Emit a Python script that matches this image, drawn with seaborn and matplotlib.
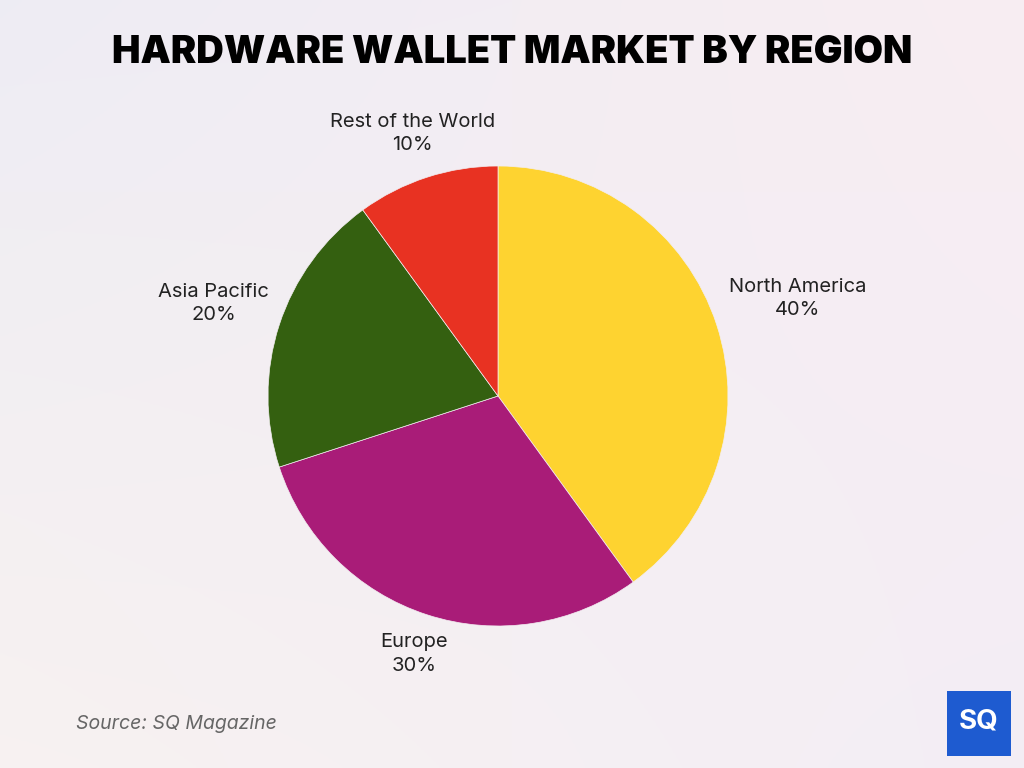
import numpy as np
import seaborn as sns
import matplotlib.pyplot as plt
from matplotlib.patches import Rectangle

regions = ['North America', 'Europe', 'Asia Pacific', 'Rest of the World']
shares = [40, 30, 20, 10]
colors = ['#FED330', '#A91C78', '#346010', '#E83222']
label_dist = [1.37, 1.18, 1.30, 1.20]

sns.set_theme(style='white')
plt.rcParams['font.family'] = ['Inter', 'DejaVu Sans']

fig = plt.figure(figsize=(10.24, 7.68), dpi=100)

# soft background gradient
bg = fig.add_axes([0, 0, 1, 1], zorder=-10)
xx, yy = np.meshgrid(np.linspace(0, 1, 256), np.linspace(0, 1, 256))
c_tl = np.array([231, 234, 244]) / 255
c_tr = np.array([248, 236, 242]) / 255
c_bl = np.array([247, 243, 240]) / 255
c_br = np.array([240, 236, 246]) / 255
img = (c_tl[None, None] * ((1 - xx) * (1 - yy))[..., None]
       + c_tr[None, None] * (xx * (1 - yy))[..., None]
       + c_bl[None, None] * ((1 - xx) * yy)[..., None]
       + c_br[None, None] * (xx * yy)[..., None])
img = img * 0.6 + np.array([248, 240, 243]) / 255 * 0.4
bg.imshow(img, aspect='auto', extent=[0, 1, 0, 1], origin='upper')
bg.axis('off')

ax = fig.add_axes([268 / 1024, 142 / 768, 460 / 1024, 460 / 768])
wedges, texts = ax.pie(shares, colors=colors, startangle=90, counterclock=False,
                       labels=[f'{r}\n{s}%' for r, s in zip(regions, shares)],
                       labeldistance=1.3,
                       wedgeprops=dict(linewidth=0.5, edgecolor='#f3eef2'),
                       textprops=dict(fontsize=14.5, color='#222222', linespacing=1.4))
for w, t, d in zip(wedges, texts, label_dist):
    ang = np.deg2rad((w.theta1 + w.theta2) / 2)
    t.set_position((d * np.cos(ang), d * np.sin(ang)))
    t.set_ha('center')
    t.set_va('center')
    t.set_clip_on(False)
ax.set_xlim(-1, 1)
ax.set_ylim(-1, 1)
ax.set_aspect('equal')
ax.axis('off')

fig.text(0.5, 1 - 53 / 768, 'HARDWARE WALLET MARKET BY REGION', ha='center', va='center',
         fontsize=27.5, fontweight='black', color='#000000')
fig.text(76 / 1024, 1 - 724 / 768, 'Source: SQ Magazine', ha='left', va='center',
         fontsize=14, style='italic', color='#666666')

# logo
fig.patches.append(Rectangle((947 / 1024, 1 - 756 / 768), 64 / 1024, 65 / 768,
                             transform=fig.transFigure, facecolor='#1E5BD0',
                             edgecolor='none', zorder=5))
fig.text(979 / 1024, 1 - 722 / 768, 'SQ', ha='center', va='center', fontsize=20,
         fontweight='bold', color='white', zorder=6)

fig.savefig('out.png', dpi=100)
